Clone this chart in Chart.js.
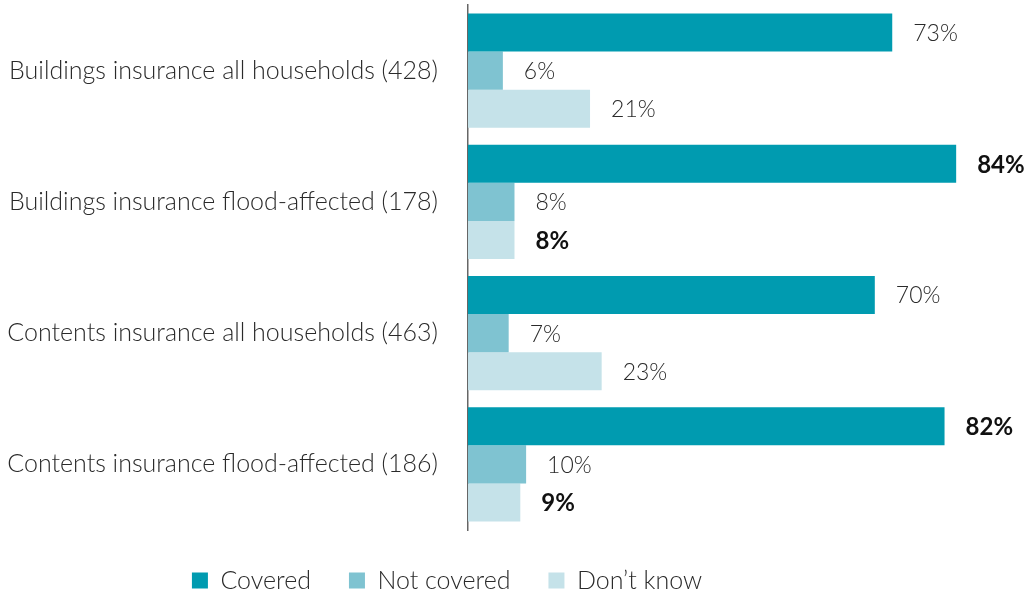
<!DOCTYPE html>
<html lang="en">
<head>
<meta charset="UTF-8">
<title>Insurance cover</title>
<script src="https://cdn.jsdelivr.net/npm/chart.js@4.4.1/dist/chart.umd.min.js"></script>
<style>
  html, body { margin: 0; padding: 0; background: #fff; }
  #wrap { width: 1027px; height: 593px; }
</style>
</head>
<body>
<div id="wrap"><canvas id="chart"></canvas></div>
<script>
const categories = [
  'Buildings insurance all households (428)',
  'Buildings insurance flood-affected (178)',
  'Contents insurance all households (463)',
  'Contents insurance flood-affected (186)'
];
const seriesNames = ['Covered', 'Not covered', 'Don\u2019t know'];
const covered = [73, 84, 70, 82];
const notCovered = [6, 8, 7, 10];
const dontKnow = [21, 8, 23, 9];
// which value labels are printed in bold in the original
const coveredBold = [false, true, false, true];
const notCoveredBold = [false, false, false, false];
const dontKnowBold = [false, true, false, true];

const colors = ['#009bb0', '#7fc3d1', '#c5e2e9'];
const FONT = 'Lato, "Open Sans", sans-serif';

// draws "73%" etc. to the right of every bar
const valueLabels = {
  id: 'valueLabels',
  afterDatasetsDraw(chart) {
    const ctx = chart.ctx;
    ctx.save();
    ctx.textBaseline = 'middle';
    ctx.textAlign = 'left';
    chart.data.datasets.forEach((ds, i) => {
      chart.getDatasetMeta(i).data.forEach((bar, j) => {
        const bold = ds.bold[j];
        ctx.font = bold ? '700 24px ' + FONT : '300 23px ' + FONT;
        ctx.fillStyle = bold ? '#111' : '#2a2a2a';
        ctx.fillText(ds.data[j] + '%', bar.x + 21, bar.y + 1);
      });
    });
    ctx.restore();
  }
};

// legend: fixed height, and centred a bit left like the original
const legendPlace = {
  id: 'legendPlace',
  beforeLayout(chart) {
    const lg = chart.legend;
    if (lg && !lg._fixed) {
      const fit = lg.fit.bind(lg);
      lg.fit = function () { fit(); this.height = 63; };
      lg._fixed = true;
    }
  },
  afterLayout(chart) {
    const lg = chart.legend;
    const shift = 447 - (lg.left + lg.right) / 2;
    lg.left += shift;
    lg.right += shift;
  }
};

new Chart(document.getElementById('chart'), {
  type: 'bar',
  data: {
    labels: categories,
    datasets: [
      { label: seriesNames[0], data: covered, bold: coveredBold, backgroundColor: colors[0] },
      { label: seriesNames[1], data: notCovered, bold: notCoveredBold, backgroundColor: colors[1] },
      { label: seriesNames[2], data: dontKnow, bold: dontKnowBold, backgroundColor: colors[2] }
    ]
  },
  options: {
    indexAxis: 'y',
    responsive: true,
    maintainAspectRatio: false,
    animation: false,
    datasets: {
      bar: { barPercentage: 1, categoryPercentage: 0.87 }
    },
    layout: { padding: { top: 5, right: 4, bottom: 0, left: 0 } },
    scales: {
      x: { min: 0, max: 95.5, display: false },
      y: {
        afterFit(scale) { scale.width = 468; },
        grid: { display: true, drawOnChartArea: false, drawTicks: true, tickLength: 30, tickColor: 'rgba(0,0,0,0)' },
        border: { display: true, color: '#666', width: 1.5 },
        ticks: {
          color: '#2a2a2a',
          padding: 0,
          font: { family: FONT, size: 25, weight: '300', lineHeight: 0.4 }
        }
      }
    },
    plugins: {
      legend: {
        position: 'bottom',
        labels: {
          boxWidth: 16,
          boxHeight: 16,
          padding: 38,
          color: '#2a2a2a',
          font: { family: FONT, size: 25, weight: '300' }
        }
      },
      tooltip: { enabled: false }
    }
  },
  plugins: [valueLabels, legendPlace]
});
</script>
</body>
</html>
